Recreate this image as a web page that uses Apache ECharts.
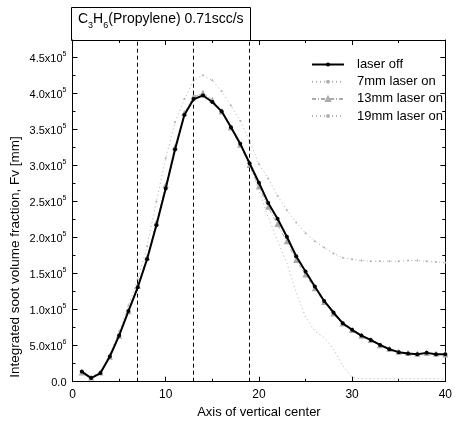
<!DOCTYPE html>
<html>
<head>
<meta charset="utf-8">
<script src="https://cdn.jsdelivr.net/npm/echarts@6/dist/echarts.min.js"></script>
<style>
html,body{margin:0;padding:0;background:#fff;}
#chart{width:455px;height:428px;}
</style>
</head>
<body>
<div id="chart"></div>
<script>
// Axis of vertical center (x) positions
const xValues = [1,2,3,4,5,6,7,8,9,10,11,12,13,14,15,16,17,18,19,20,21,22,23,24,25,26,27,28,29,30,31,32,33,34,35,36,37,38,39,40];
// Integrated soot volume fraction, in units of 1e-5 (as labelled)
const laserOff = [0.14,0.05,0.12,0.35,0.64,0.98,1.31,1.70,2.17,2.68,3.22,3.70,3.92,3.97,3.88,3.75,3.53,3.30,3.03,2.76,2.48,2.26,2.01,1.74,1.53,1.32,1.12,0.96,0.81,0.72,0.64,0.58,0.51,0.45,0.41,0.39,0.38,0.40,0.38,0.38];
const laser7mm = [0.15,0.06,0.14,0.38,0.70,1.06,1.42,1.88,2.50,3.10,3.60,3.92,4.18,4.25,4.18,4.03,3.83,3.62,3.34,3.02,2.82,2.58,2.38,2.21,2.06,1.95,1.86,1.78,1.72,1.70,1.68,1.67,1.67,1.67,1.67,1.68,1.68,1.67,1.66,1.65];
const laser13mm = [0.12,0.05,0.12,0.34,0.63,0.97,1.32,1.72,2.20,2.72,3.25,3.72,3.95,4.00,3.90,3.74,3.52,3.28,3.00,2.70,2.42,2.18,1.94,1.68,1.48,1.29,1.10,0.94,0.80,0.71,0.63,0.57,0.50,0.45,0.41,0.39,0.38,0.39,0.38,0.37];
const laser19mm = [0.13,0.05,0.13,0.36,0.65,0.99,1.33,1.73,2.21,2.73,3.26,3.73,3.96,4.00,3.91,3.76,3.55,3.30,3.02,2.66,2.28,1.96,1.64,1.24,0.90,0.70,0.61,0.45,0.22,0.06,0.04,0.04,0.04,0.04,0.04,0.04,0.04,0.04,0.04,0.04];
const seriesNames = ['laser off','7mm laser on','13mm laser on','19mm laser on'];
const markerLines = [7, 13, 19];
const xTicks = [0, 10, 20, 30, 40];
const yTicks = [0, 0.5, 1.0, 1.5, 2.0, 2.5, 3.0, 3.5, 4.0, 4.5];

const FONT = 'Liberation Sans';
const toPairs = arr => xValues.map((x, i) => [x, arr[i]]);

function yLabel(v) {
  if (Math.abs(v) < 1e-9) return '{a|0.0}';
  if (v < 1) return '{a|' + (v * 10).toFixed(1) + 'x10}{s|6}';
  return '{a|' + v.toFixed(1) + 'x10}{s|5}';
}

const chart = echarts.init(document.getElementById('chart'), null, {renderer: 'canvas'});
const axisBase = {
  axisLine: {show: true, onZero: false, lineStyle: {color: '#000', width: 1}},
  splitLine: {show: false}
};
chart.setOption({
  backgroundColor: '#fff',
  animation: false,
  textStyle: {fontFamily: FONT},
  title: {
    text: '{n|C}{b|3}{n|H}{b|6}{n|(Propylene) 0.71scc/s}',
    left: 78, top: 12, padding: 0,
    textStyle: {
      fontWeight: 'normal',
      rich: {
        n: {fontFamily: FONT, fontSize: 14, fontWeight: 'normal', color: '#000', lineHeight: 18, verticalAlign: 'top'},
        b: {fontFamily: FONT, fontSize: 9, fontWeight: 'normal', color: '#000', lineHeight: 18, verticalAlign: 'bottom'}
      }
    }
  },
  graphic: [
    {type: 'rect', left: 71, top: 7, z: -1, shape: {width: 179, height: 33}, style: {fill: '#fff', stroke: '#000', lineWidth: 1}},
    {type: 'text', x: 15, y: 257, rotation: Math.PI / 2,
     style: {text: 'Integrated soot volume fraction, Fv [mm]', font: '13.5px "' + FONT + '"', fill: '#000', textAlign: 'center', textVerticalAlign: 'middle'}}
  ],
  grid: {left: 72.5, right: 7, top: 40, bottom: 46.3, containLabel: false},
  legend: {
    data: seriesNames,
    orient: 'vertical',
    left: 306, top: 53,
    itemWidth: 32, itemHeight: 5, itemGap: 4.2,
    textStyle: {fontFamily: FONT, fontSize: 13, color: '#000', padding: [0, 0, 0, 8]},
    backgroundColor: 'transparent'
  },
  xAxis: [
    Object.assign({}, axisBase, {
      type: 'value', min: 0, max: 40, interval: 10, position: 'bottom',
      name: 'Axis of vertical center', nameLocation: 'middle', nameGap: 23,
      nameTextStyle: {fontFamily: FONT, fontSize: 13, color: '#000'},
      axisTick: {show: true, inside: true, length: 5, lineStyle: {color: '#000'}},
      minorTick: {show: true, splitNumber: 2, length: 3, lineStyle: {color: '#000'}},
      axisLabel: {show: true, margin: 7, fontFamily: FONT, fontSize: 12, color: '#000',
        customValues: xTicks}
    }),
    Object.assign({}, axisBase, {
      type: 'value', min: 0, max: 40, interval: 10, position: 'top',
      axisTick: {show: true, inside: true, length: 5, lineStyle: {color: '#000'}},
      minorTick: {show: true, splitNumber: 2, length: 3, lineStyle: {color: '#000'}},
      axisLabel: {show: false}
    })
  ],
  yAxis: [
    Object.assign({}, axisBase, {
      type: 'value', min: 0, max: 4.74, interval: 0.5, position: 'left',
      axisTick: {show: true, inside: true, length: 5, lineStyle: {color: '#000'}},
      minorTick: {show: true, splitNumber: 2, length: 3, lineStyle: {color: '#000'}},
      axisLabel: {show: true, margin: 6, showMaxLabel: false, color: '#000',
        formatter: v => yTicks.some(t => Math.abs(t - v) < 1e-6) ? yLabel(v) : '',
        rich: {
          a: {fontFamily: FONT, fontSize: 11, color: '#000', lineHeight: 14, verticalAlign: 'bottom'},
          s: {fontFamily: FONT, fontSize: 7, color: '#000', lineHeight: 14, verticalAlign: 'top'}
        }}
    }),
    Object.assign({}, axisBase, {
      type: 'value', min: 0, max: 4.74, interval: 0.5, position: 'right',
      axisTick: {show: true, inside: true, length: 5, lineStyle: {color: '#000'}},
      minorTick: {show: true, splitNumber: 2, length: 3, lineStyle: {color: '#000'}},
      axisLabel: {show: false}
    })
  ],
  series: [
    {
      name: seriesNames[0], type: 'line', data: toPairs(laserOff), z: 5,
      symbol: 'circle', symbolSize: 4, showSymbol: true,
      lineStyle: {color: '#000', width: 2}, itemStyle: {color: '#000'},
      markLine: {
        silent: true, symbol: ['none', 'none'], label: {show: false},
        lineStyle: {color: '#000', type: [4, 3], width: 1},
        data: markerLines.map(v => ({xAxis: v}))
      }
    },
    {
      name: seriesNames[1], type: 'line', data: toPairs(laser7mm), z: 3,
      symbol: 'circle', symbolSize: 2,
      lineStyle: {color: '#b0b0b0', width: 1, type: [1, 3]}, itemStyle: {color: '#b0b0b0'}
    },
    {
      name: seriesNames[2], type: 'line', data: toPairs(laser13mm), z: 3,
      symbol: 'emptyTriangle', symbolSize: 3,
      lineStyle: {color: '#aaa', width: 1, type: [4, 2, 1, 2]}, itemStyle: {color: '#aaa', borderColor: '#aaa'}
    },
    {
      name: seriesNames[3], type: 'line', data: toPairs(laser19mm), z: 3,
      symbol: 'none',
      lineStyle: {color: '#b0b0b0', width: 1, type: [1, 3]}, itemStyle: {color: '#b0b0b0'}
    }
  ]
});
</script>
</body>
</html>
